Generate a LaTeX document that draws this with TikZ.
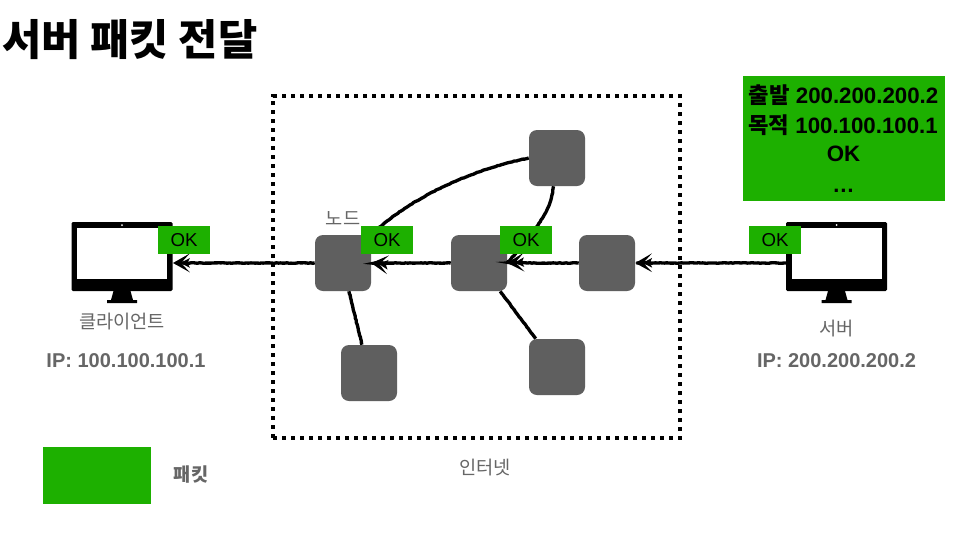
\documentclass[tikz,border=0pt]{standalone}
\usepackage{fontspec}
\setmainfont{Liberation Sans}
\newfontfamily\kr{Noto Sans CJK KR}
\usetikzlibrary{arrows.meta,decorations.pathmorphing}
\definecolor{pktgreen}{HTML}{1DB000}
\definecolor{nodegray}{HTML}{5F5F5F}
\definecolor{labelgray}{HTML}{666666}
\tikzset{
  x=0.75pt,y=-0.75pt,
  netnode/.style={rectangle,fill=nodegray,draw=none,rounded corners=6pt,minimum size=42pt,inner sep=0pt},
  okbox/.style={rectangle,fill=pktgreen,minimum width=39pt,minimum height=21pt,inner sep=0pt,font=\fontsize{14}{14}\selectfont,text=black},
  rough/.style={decorate,decoration={random steps,segment length=1.6pt,amplitude=0.22pt}},
  link/.style={draw=black,line width=2.5pt,rough},
  flow/.style={draw=black,line width=2.5pt,rough,-{Stealth[length=7pt,width=7pt,inset=1.5pt,sep=-7pt]Stealth[length=12.5pt,width=14pt,inset=6.5pt]}},
  lbl/.style={text=labelgray,inner sep=0pt,font=\fontsize{14}{17}\selectfont\kr},
  iplbl/.style={text=labelgray,inner sep=0pt,font=\fontsize{15}{18}\selectfont\bfseries},
  detailtxt/.style={inner sep=0pt,font=\fontsize{16.7}{16.7}\selectfont\bfseries,text=black},
  monitor/.style={rectangle,fill=black,rounded corners=1pt,minimum width=75.75pt,minimum height=51.75pt,inner sep=0pt},
  monscreen/.style={rectangle,fill=white,minimum width=67.5pt,minimum height=38.25pt,inner sep=0pt},
  camdot/.style={circle,fill=white,minimum size=1.5pt,inner sep=0pt},
}
\newcommand{\monstand}[1]{%
  \fill[black] (#1-8.5,291) -- (#1+8.5,291) -- (#1+11,300) -- (#1+15,300) -- (#1+15,303) -- (#1-15,303) -- (#1-15,300) -- (#1-11,300) -- cycle;}
\begin{document}
\begin{tikzpicture}
\useasboundingbox (0,0) rectangle (963,533);
\fill[white] (0,0) rectangle (963,533);

% title
\node[anchor=west,inner sep=0pt,font=\fontsize{32}{36}\selectfont\kr\bfseries,text=black] (title) at (2,40) {서버 패킷 전달};

% internet frame
\node[rectangle,draw=black,line width=3.2pt,dash pattern=on 3.3pt off 3.45pt,minimum width=305.25pt,minimum height=256.5pt,inner sep=0pt] (net) at (476.5,267) {};
\node[lbl] (netlbl) at (485,468) {인터넷};

% monitors
\monstand{122}
\node[monitor] (client) at (122,256.5) {};
\node[monscreen] (cscreen) at (122,253.5) {};
\node[camdot] (ccam) at (122,225) {};
\monstand{836.5}
\node[monitor] (server) at (836.5,256.5) {};
\node[monscreen] (sscreen) at (836.5,253.5) {};
\node[camdot] (scam) at (836.5,225) {};
\coordinate (cport) at (173,263);
\coordinate (sport) at (786,263);

% nodes
\node[netnode] (n1) at (343,263) {};
\node[netnode] (n2) at (479,263) {};
\node[netnode] (n3) at (607,263) {};
\node[netnode] (top) at (557,158) {};
\node[netnode] (bl) at (369,373) {};
\node[netnode] (br) at (557,367) {};

% links
\draw[link] (top.west) .. controls (470,170) and (410,198) .. (n1.north east);
\draw[link] (top.-97) .. controls (551,208) and (543,222) .. (n2.east);
\draw[link] (n1.-78) -- (bl.104);
\draw[link] (n2.-53) -- (br.127);

% flows
\draw[flow] (sport) -- (n3.east);
\draw[flow] (n3.west) -- (n2.east);
\draw[flow] (n2.west) -- (n1.east);
\draw[flow] (n1.west) -- (cport);

% OK boxes
\node[okbox] (ok1) at (184,240) {OK};
\node[okbox] (ok2) at (387,240) {OK};
\node[okbox] (ok3) at (526,240) {OK};
\node[okbox] (ok4) at (775,240) {OK};

% labels
\node[lbl] (nodelbl) at (343,218) {노드};
\node[lbl] (clbl) at (122,322) {클라이언트};
\node[iplbl] (cip) at (126,361) {IP: 100.100.100.1};
\node[lbl] (slbl) at (836.5,329) {서버};
\node[iplbl] (sip) at (836.5,361) {IP: 200.200.200.2};

% packet detail
\node[rectangle,fill=pktgreen,minimum width=151.5pt,minimum height=93.75pt,inner sep=0pt] (detail) at (844,138.5) {};
\node[detailtxt] (d1) at (843.5,95) {{\kr 출발} 200.200.200.2};
\node[detailtxt] (d2) at (843,125) {{\kr 목적} 100.100.100.1};
\node[detailtxt] (d3) at (843.5,154) {OK};
\node[detailtxt] (d4) at (843.5,191) {…};

% legend
\node[rectangle,fill=pktgreen,minimum width=81pt,minimum height=42.75pt,inner sep=0pt] (legend) at (97,475.5) {};
\node[inner sep=0pt,font=\fontsize{14}{17}\selectfont\kr\bfseries,text=labelgray] (legendlbl) at (191,474) {패킷};
\end{tikzpicture}
\end{document}
